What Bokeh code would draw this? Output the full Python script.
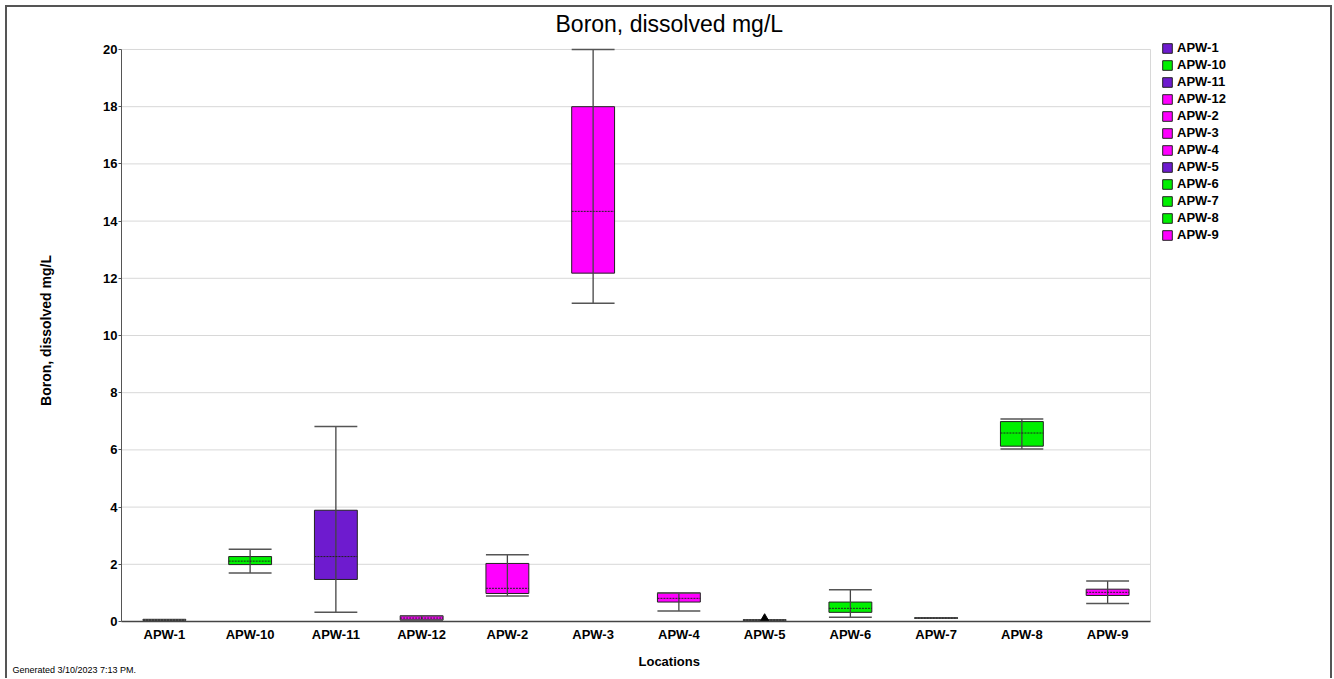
from bokeh.plotting import figure
from bokeh.models import (ColumnDataSource, Range1d, Legend, LegendItem,
                          FixedTicker, Title)
from bokeh.transform import dodge
from bokeh.embed import file_html
from bokeh.resources import INLINE

locations = ["APW-1", "APW-10", "APW-11", "APW-12", "APW-2", "APW-3",
             "APW-4", "APW-5", "APW-6", "APW-7", "APW-8", "APW-9"]
whisker_low = [0.04, 1.70, 0.32, 0.05, 0.89, 11.13, 0.37, 0.04, 0.15, 0.11, 6.03, 0.63]
q1 = [0.04, 1.99, 1.47, 0.05, 0.98, 12.18, 0.68, 0.04, 0.32, 0.11, 6.13, 0.91]
median = [0.05, 2.11, 2.27, 0.12, 1.16, 14.34, 0.81, 0.05, 0.46, 0.12, 6.59, 1.02]
q3 = [0.07, 2.27, 3.89, 0.20, 2.03, 18.00, 1.00, 0.06, 0.68, 0.13, 6.99, 1.13]
whisker_high = [0.07, 2.53, 6.82, 0.20, 2.33, 20.00, 1.00, 0.06, 1.11, 0.13, 7.08, 1.42]
box_colors = ["#6E1BCF", "#00F000", "#6E1BCF", "#FF00FF", "#FF00FF", "#FF00FF",
              "#FF00FF", "#6E1BCF", "#00F000", "#00F000", "#00F000", "#FF00FF"]
outlier_location = ["APW-5"]
outlier_value = [0.09]
y_ticks = [0, 2, 4, 6, 8, 10, 12, 14, 16, 18, 20]

FONT = "Liberation Sans"
n = len(locations)
xpos = list(range(n))
pos_of = {loc: i for i, loc in enumerate(locations)}
y_max = y_ticks[-1]

# pixel geometry (frame extends right / up to host the legend)
PLOT_W, FRAME_W = 1029, 1207
PLOT_H, FRAME_H = 573, 583

src = ColumnDataSource(dict(x=xpos, loc=locations, lo=whisker_low, q1=q1, med=median,
                            q3=q3, hi=whisker_high, color=box_colors))

p = figure(width=1327, height=673, output_backend="svg", toolbar_location=None,
           x_range=Range1d(-0.5, -0.5 + n * FRAME_W / PLOT_W),
           y_range=Range1d(0, y_max * FRAME_H / PLOT_H),
           min_border_left=116, min_border_right=4, min_border_top=33, min_border_bottom=57)
p.border_fill_color = None
p.background_fill_color = "white"
p.outline_line_color = None
p.styles = {"margin-left": "5px", "margin-top": "5px",
            "box-shadow": "inset 2px 0 0 #555555, inset 0 2px 0 #555555, inset -2px 0 0 #555555",
            "background-color": "white"}

# titles
p.add_layout(Title(text="Boron, dissolved mg/L", align="left", offset=434,
                   text_font=FONT, text_font_size="23px", text_font_style="normal",
                   text_color="black", standoff=6), "above")
p.add_layout(Title(text="Locations", align="left", offset=517,
                   text_font=FONT, text_font_size="13px", text_font_style="bold",
                   text_color="black", standoff=14), "below")
p.add_layout(Title(text="Generated 3/10/2023 7:13 PM.", align="left", offset=-109,
                   vertical_align="top",
                   text_font=FONT, text_font_size="9px", text_font_style="normal",
                   text_color="black", standoff=-22), "below")

# axes
p.yaxis.ticker = FixedTicker(ticks=y_ticks)
p.yaxis.bounds = (0, y_max)
p.yaxis.major_label_text_font = FONT
p.yaxis.major_label_text_font_style = "bold"
p.yaxis.major_label_text_font_size = "13px"
p.yaxis.major_label_text_color = "black"
p.yaxis.major_tick_out = 3
p.yaxis.major_tick_in = 0
p.yaxis.minor_tick_out = 0
p.yaxis.minor_tick_in = 0
p.yaxis.major_label_standoff = 1
p.yaxis.axis_line_color = "#555555"
p.yaxis.major_tick_line_color = "#555555"
p.yaxis.axis_label = "Boron, dissolved mg/L"
p.yaxis.axis_label_text_font = FONT
p.yaxis.axis_label_text_font_size = "14px"
p.yaxis.axis_label_text_font_style = "bold"
p.yaxis.axis_label_text_color = "black"
p.yaxis.axis_label_standoff = 46

p.xaxis.ticker = FixedTicker(ticks=xpos)
p.xaxis.major_label_overrides = {i: loc for i, loc in enumerate(locations)}
p.xaxis.bounds = (-0.5, n - 0.5)
p.xaxis.major_label_text_font = FONT
p.xaxis.major_label_text_font_style = "bold"
p.xaxis.major_label_text_font_size = "13px"
p.xaxis.major_label_text_color = "black"
p.xaxis.major_tick_out = 0
p.xaxis.major_tick_in = 0
p.xaxis.minor_tick_out = 0
p.xaxis.minor_tick_in = 0
p.xaxis.major_label_standoff = 5
p.xaxis.axis_line_color = "#444444"
p.xaxis.axis_line_width = 1.5

p.xgrid.grid_line_color = None
p.ygrid.grid_line_color = None

# grid lines limited to the plotting area, plus light right border
p.segment(x0=[-0.5] * len(y_ticks), x1=[n - 0.5] * len(y_ticks), y0=y_ticks, y1=y_ticks,
          line_color="#d8d8d8", line_width=1)
p.segment(x0=[n - 0.5], x1=[n - 0.5], y0=[0], y1=[y_max], line_color="#d8d8d8", line_width=1)

# boxes
boxes = p.vbar(x="x", top="q3", bottom="q1", width=0.5, source=src,
               fill_color="color", line_color="#222222", line_width=1)
# whisker stems
p.segment(x0="x", x1="x", y0="lo", y1="hi", source=src,
          line_color="#444444", line_width=1.3)
# caps
p.segment(x0=dodge("x", -0.25), x1=dodge("x", 0.25),
          y0="lo", y1="lo", source=src, line_color="#555555", line_width=1.5)
p.segment(x0=dodge("x", -0.25), x1=dodge("x", 0.25),
          y0="hi", y1="hi", source=src, line_color="#555555", line_width=1.5)
# medians
p.segment(x0=dodge("x", -0.25), x1=dodge("x", 0.25),
          y0="med", y1="med", source=src, line_color="#222222", line_width=1,
          line_dash="2 1")
# outlier marker
p.scatter(x=[pos_of[l] for l in outlier_location], y=outlier_value, marker="triangle",
          size=9, fill_color="black", line_color="black")

# legend
items = [LegendItem(label=loc, renderers=[boxes], index=i) for i, loc in enumerate(locations)]
legend = Legend(items=items, location=(1040, 379), padding=0, margin=0, spacing=2,
                glyph_width=12, glyph_height=12, label_height=12,
                label_text_font=FONT, label_text_font_style="bold",
                label_text_font_size="13px", label_text_color="black",
                label_standoff=4, border_line_color=None, background_fill_alpha=0)
p.add_layout(legend, "center")

open("out.html", "w").write(file_html(p, INLINE))
